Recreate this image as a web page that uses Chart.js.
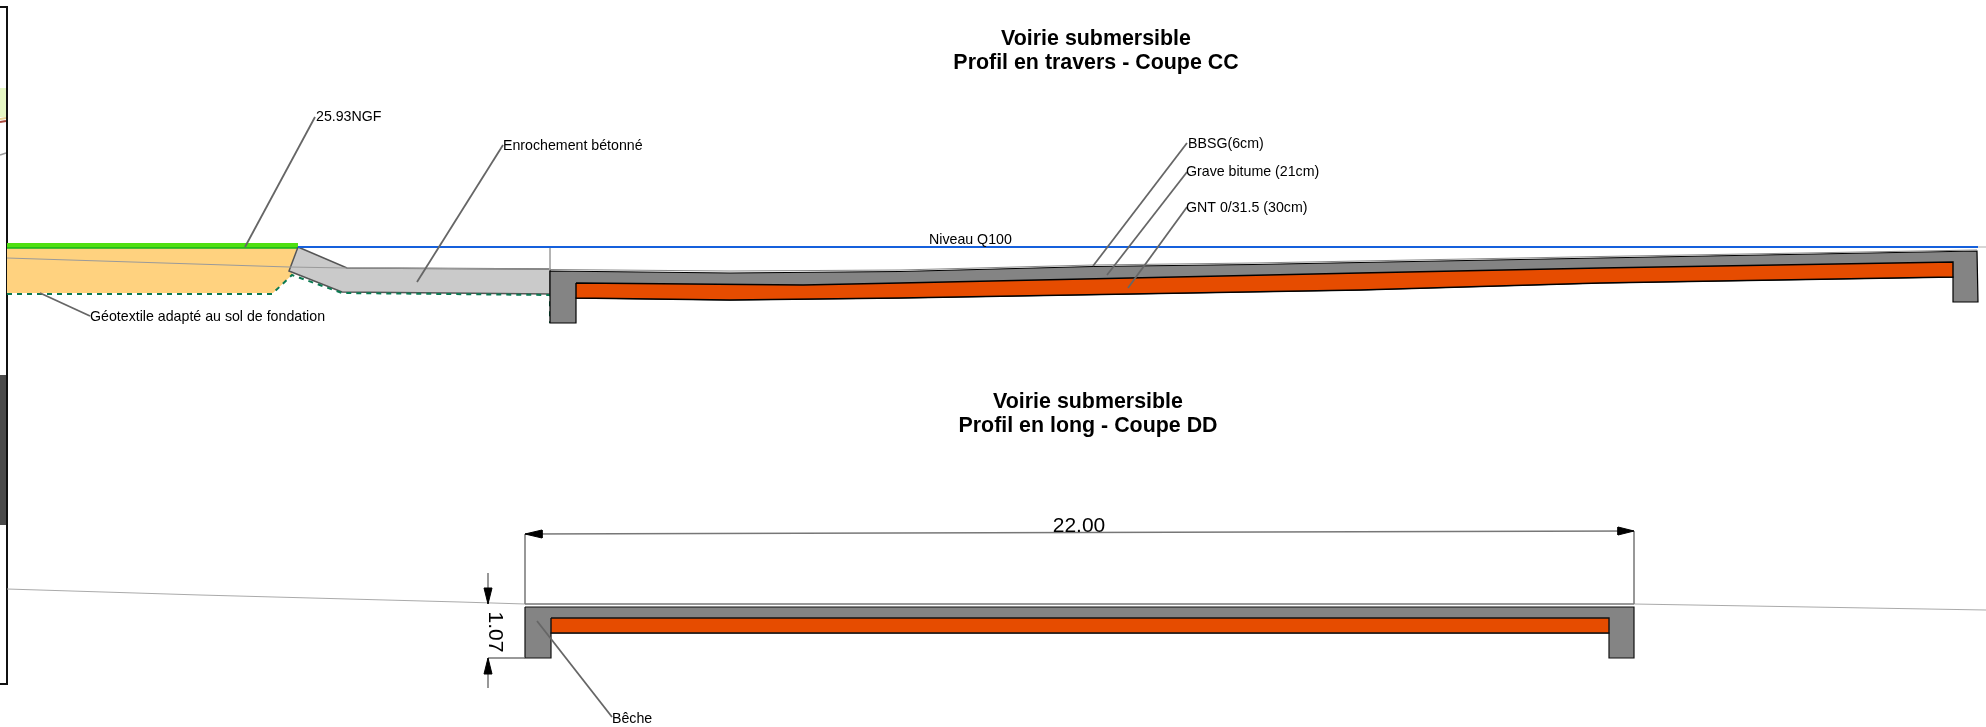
<!DOCTYPE html>
<html>
<head>
<meta charset="utf-8">
<title>Voirie submersible</title>
<script src="https://cdn.jsdelivr.net/npm/chart.js@4/dist/chart.umd.min.js"></script>
<style>
  html, body { margin: 0; padding: 0; background: #fff; }
  canvas { display: block; }
</style>
</head>
<body>
<canvas id="drawing" width="1986" height="727"></canvas>
<script>
// Drawing outlines, in drawing units (x, y downwards)

// Coupe CC
const backfill = [[7, 248], [297, 248], [289, 271], [293, 274], [273, 293], [7, 293], [7, 248]];
const grassStrip = [[7, 243], [298, 243], [298, 248], [7, 248], [7, 243]];
const grassLine = [[7, 248], [298, 248]];
const geotextile = [[7, 294], [272, 294], [292, 275], [342, 293], [550, 295], [550, 323]];
const riprap = [[298, 247], [347, 268], [550, 269], [550, 294], [342, 292], [289, 271], [298, 247]];
const waterLevel = [[298, 247], [1978, 247]];
const waterTail = [[1978, 247], [1986, 247]];
const groundCC = [[7, 258], [289, 267], [347, 268], [550, 269]];
const tickCC = [[550, 247], [550, 270]];
const slabCC = [[550, 271], [730, 273], [900, 271.5], [1093, 266.5], [1253, 264.5], [1360, 262.5], [1600, 258], [1977, 251],
  [1978, 302], [1953, 302], [1953, 277], [1600, 283], [1360, 290], [900, 298], [730, 300], [576, 298], [576, 323], [550, 323], [550, 271]];
const bbsgCC = [[550, 269.5], [730, 271], [900, 270], [1093, 265], [1253, 263], [1360, 261], [1600, 256.5], [1977, 250]];
const layerCC = [[576, 283], [803, 285], [900, 283], [1360, 273], [1600, 268], [1953, 262],
  [1953, 277], [1600, 283], [1360, 290], [900, 298], [730, 300], [576, 298], [576, 283]];

// Coupe DD
const groundLeft = [[7, 589], [200, 595], [460, 602], [525, 604]];
const groundRight = [[1634, 604], [1986, 610]];
const slabDD = [[525, 607], [1634, 607], [1634, 658], [1609, 658], [1609, 633], [551, 633], [551, 658], [525, 658], [525, 607]];
const bbsgDD = [[525, 604], [1634, 604]];
const layerDD = [[551, 618], [1609, 618], [1609, 633], [551, 633], [551, 618]];

// Dimension lines
const dimLength = [[525, 534], [1634, 531]];
const dimExtLeft = [[525, 534], [525, 604]];
const dimExtRight = [[1634, 531], [1634, 604]];
const dimHeightTop = [[488, 573], [488, 604]];
const dimHeightBottom = [[488, 658], [488, 688]];
const dimExtBottom = [[488, 658], [525, 658]];
const arrowLeft = [[525, 534], [542, 530], [542, 538], [525, 534]];
const arrowRight = [[1634, 531], [1618, 527], [1618, 535], [1634, 531]];
const arrowTop = [[488, 604], [484, 588], [492, 588], [488, 604]];
const arrowBottom = [[488, 658], [484, 674], [492, 674], [488, 658]];

// Leaders
const leaderNgf = [[245, 247], [315, 117]];
const leaderGeo = [[40, 293], [90, 316]];
const leaderRiprap = [[417, 282], [503, 145]];
const leaderBbsg = [[1093, 266], [1187, 143]];
const leaderGrave = [[1107, 275], [1187, 172]];
const leaderGnt = [[1128, 288], [1187, 207]];
const leaderBeche = [[537, 621], [612, 717]];

// Neighbouring sheet, cut off at the left edge
const sheetFrame = [[0, 7], [7, 7], [7, 684], [0, 684]];
const sheetBar = [[0, 375], [6, 375], [6, 525], [0, 525], [0, 375]];
const sheetGreen = [[0, 88], [6, 88], [6, 117], [0, 117], [0, 88]];
const sheetYellow = [[0, 119], [6, 118]];
const sheetRed = [[0, 122], [6, 121]];
const sheetGrey = [[0, 155], [6, 153]];

// Texts
const titles = [
  ['Voirie submersible', 1096, 39],
  ['Profil en travers - Coupe CC', 1096, 63],
  ['Voirie submersible', 1088, 402],
  ['Profil en long - Coupe DD', 1088, 426]
];
const notes = [
  ['25.93NGF', 316, 117],
  ['Enrochement bétonné', 503, 146],
  ['BBSG(6cm)', 1188, 144],
  ['Grave bitume (21cm)', 1186, 172],
  ['GNT 0/31.5 (30cm)', 1186, 208],
  ['Niveau Q100', 929, 240],
  ['Géotextile adapté au sol de fondation', 90, 317],
  ['Bêche', 612, 719]
];
const dimLengthLabel = ['22.00', 1079, 526];
const dimHeightLabel = ['1.07', 495, 632];

// Build a line dataset, later calls paint on top of earlier ones
const datasets = [];
function addShape(points, style) {
  const { fill, ...line } = style;
  datasets.push({
    data: points.map(p => ({ x: p[0], y: p[1] })),
    showLine: true,
    pointRadius: 0,
    tension: 0,
    borderWidth: 1,
    borderColor: 'transparent',
    backgroundColor: fill || 'transparent',
    fill: fill ? 'shape' : false,
    ...line
  });
}

const leaderStyle = { borderColor: '#666', borderWidth: 1.8 };
const dimStyle = { borderColor: '#777', borderWidth: 1.5 };
const arrowStyle = { fill: '#000', borderColor: '#000' };

addShape(sheetGreen, { fill: '#e6f7c4' });
addShape(sheetYellow, { borderColor: '#e8d090', borderWidth: 2 });
addShape(sheetRed, { borderColor: '#a8483c', borderWidth: 2 });
addShape(sheetGrey, { borderColor: '#999', borderWidth: 1.5 });
addShape(sheetBar, { fill: '#4a4a4a' });
addShape(sheetFrame, { borderColor: '#111', borderWidth: 2 });

addShape(backfill, { fill: '#ffd27f' });
addShape(grassStrip, { fill: '#4fe010' });
addShape(grassLine, { borderColor: '#12b31c', borderWidth: 1.5 });
addShape(riprap, { fill: '#cacaca', borderColor: '#555', borderWidth: 1.5 });
addShape(geotextile, { borderColor: '#0b7a52', borderWidth: 2, borderDash: [5, 5] });
addShape(groundCC, { borderColor: '#9a9a9a', borderWidth: 1 });
addShape(tickCC, { borderColor: '#aaa', borderWidth: 1 });
addShape(waterLevel, { borderColor: '#1560dc', borderWidth: 2 });
addShape(waterTail, { borderColor: '#bbb', borderWidth: 1.2 });
addShape(slabCC, { fill: '#848484', borderColor: '#000', borderWidth: 1.2 });
addShape(bbsgCC, { borderColor: '#8a8a8a', borderWidth: 1.2 });
addShape(layerCC, { fill: '#e64c00', borderColor: '#000', borderWidth: 1.4 });

addShape(groundLeft, { borderColor: '#aaa', borderWidth: 1.2 });
addShape(groundRight, { borderColor: '#aaa', borderWidth: 1.2 });
addShape(slabDD, { fill: '#848484', borderColor: '#111', borderWidth: 1.2 });
addShape(bbsgDD, { borderColor: '#777', borderWidth: 1.4 });
addShape(layerDD, { fill: '#e64c00', borderColor: '#111', borderWidth: 1.4 });

[dimLength, dimExtLeft, dimExtRight, dimHeightTop, dimHeightBottom, dimExtBottom].forEach(d => addShape(d, dimStyle));
[arrowLeft, arrowRight, arrowTop, arrowBottom].forEach(a => addShape(a, arrowStyle));
[leaderNgf, leaderGeo, leaderRiprap, leaderBbsg, leaderGrave, leaderGnt, leaderBeche].forEach(l => addShape(l, leaderStyle));

// Lower order paints on top
datasets.forEach((d, i) => { d.order = datasets.length - i; });

// Texts go through the same scales as the shapes
const textPlugin = {
  id: 'drawingTexts',
  afterDatasetsDraw(chart) {
    const { ctx, scales } = chart;
    const put = (item, font, align, angle) => {
      ctx.save();
      ctx.translate(scales.x.getPixelForValue(item[1]), scales.y.getPixelForValue(item[2]));
      ctx.rotate(angle || 0);
      ctx.font = font;
      ctx.fillStyle = '#000';
      ctx.textAlign = align;
      ctx.textBaseline = 'middle';
      ctx.fillText(item[0], 0, 0);
      ctx.restore();
    };
    titles.forEach(t => put(t, 'bold 21.4px "Liberation Sans"', 'center'));
    notes.forEach(n => put(n, '14.2px "Liberation Sans"', 'left'));
    put(dimLengthLabel, '21px "Liberation Sans"', 'center');
    put(dimHeightLabel, '21px "Liberation Sans"', 'center', Math.PI / 2);
  }
};

new Chart(document.getElementById('drawing'), {
  type: 'scatter',
  data: { datasets },
  plugins: [textPlugin],
  options: {
    responsive: false,
    animation: false,
    layout: { padding: 0 },
    plugins: { legend: { display: false }, tooltip: { enabled: false } },
    scales: {
      x: { type: 'linear', min: 0, max: 1986, display: false },
      y: { type: 'linear', min: 0, max: 727, reverse: true, display: false }
    }
  }
});
</script>
</body>
</html>
